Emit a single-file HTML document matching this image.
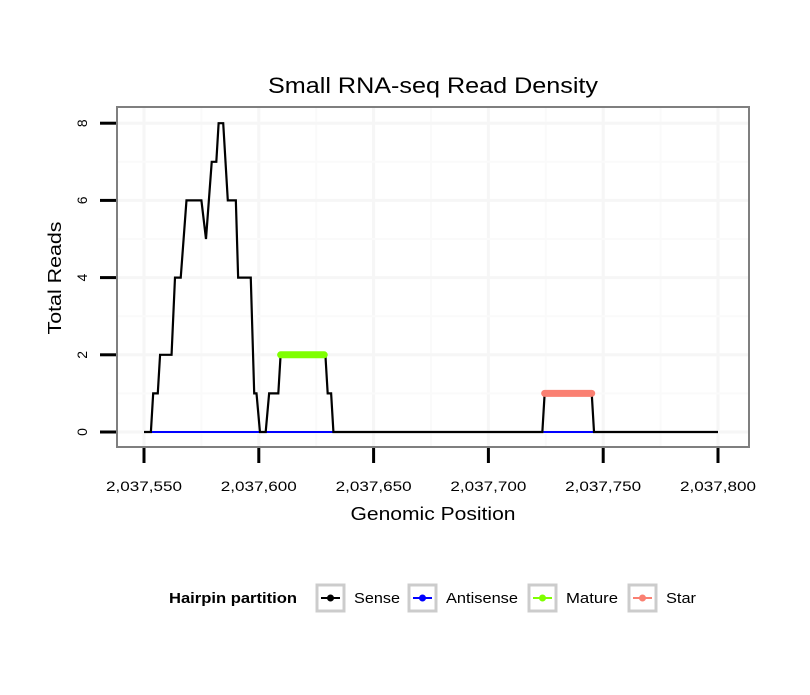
<!DOCTYPE html>
<html><head><meta charset="utf-8"><style>
body{margin:0;background:#fff;font-family:"Liberation Sans",sans-serif}
</style></head><body>
<svg id="chart" width="810" height="690" xmlns="http://www.w3.org/2000/svg" font-family="Liberation Sans, sans-serif">
<rect width="810" height="690" fill="#fff"/>
<text x="433" y="93" font-size="22" text-anchor="middle" textLength="330" lengthAdjust="spacingAndGlyphs">Small RNA-seq Read Density</text>
<g id="grid"></g>
<g id="series"></g>
<rect x="117" y="107" width="632" height="340" fill="none" stroke="#7f7f7f" stroke-width="2"/>
<g id="axes"></g>
<text transform="translate(61,278) rotate(-90)" font-size="18" text-anchor="middle" textLength="113" lengthAdjust="spacingAndGlyphs">Total Reads</text>
<text x="433" y="520" font-size="18" text-anchor="middle" textLength="165" lengthAdjust="spacingAndGlyphs">Genomic Position</text>
<g>
<text x="169" y="603" font-size="15" font-weight="bold" textLength="128" lengthAdjust="spacingAndGlyphs">Hairpin partition</text>
<g id="legend-keys"></g>
</g>
</svg>
<script>
const xTicks=[2037550,2037600,2037650,2037700,2037750,2037800];
const xTickLabels=["2,037,550","2,037,600","2,037,650","2,037,700","2,037,750","2,037,800"];
const yTicks=[0,2,4,6,8];
const sensePos=[2037550,2037553,2037554,2037556,2037557,2037562,2037563.5,2037566,2037568.5,2037575,2037577,2037579.5,2037581.5,2037582.5,2037584.5,2037586.5,2037590,2037591,2037596.5,2037598,2037599,2037600.5,2037603,2037604.5,2037608.5,2037609.5,2037629,2037630,2037631.5,2037632.5,2037723.5,2037724.5,2037745,2037746,2037800];
const senseVal=[0,0,1,1,2,2,4,4,6,6,5,7,7,8,8,6,6,4,4,1,1,0,0,1,1,2,2,1,1,0,0,1,1,0,0];
const antisensePos=[[2037552,2037632.5],[2037724,2037746]];
const maturePos=[2037609.5,2037628.5];
const matureVal=2;
const starPos=[2037724.5,2037745];
const starVal=1;
const NS="http://www.w3.org/2000/svg";
const X=v=>144+(v-2037550)*574/250;
const Y=v=>432-v*38.6;
function mk(t,a,p){const e=document.createElementNS(NS,t);for(const k in a)e.setAttribute(k,a[k]);p.appendChild(e);return e;}
const grid=document.getElementById('grid'),axes=document.getElementById('axes'),ser=document.getElementById('series');
for(let i=0;i<xTicks.length;i++){
 let l=mk('line',{x1:X(xTicks[i]),x2:X(xTicks[i]),y1:108,y2:446,stroke:'#f6f6f6','stroke-width':3},grid);
 
 if(i<xTicks.length-1){let m=(xTicks[i]+xTicks[i+1])/2;let g=mk('line',{x1:X(m),x2:X(m),y1:108,y2:446,stroke:'#fafafa','stroke-width':2},grid);
 }
}
for(let i=0;i<yTicks.length;i++){
 let l=mk('line',{x1:118,x2:748,y1:Y(yTicks[i]),y2:Y(yTicks[i]),stroke:'#f6f6f6','stroke-width':3},grid);
 
 if(i<yTicks.length-1){let m=(yTicks[i]+yTicks[i+1])/2;let g=mk('line',{x1:118,x2:748,y1:Y(m),y2:Y(m),stroke:'#fafafa','stroke-width':2},grid);
 }
}
xTicks.forEach((t,i)=>{
 let l=mk('line',{x1:X(t),x2:X(t),y1:448,y2:463,stroke:'#000','stroke-width':3},axes);
 
 let tx=mk('text',{x:X(t),y:491,'font-size':14,'text-anchor':'middle',textLength:76,lengthAdjust:'spacingAndGlyphs'},axes);tx.textContent=xTickLabels[i];
 
});
yTicks.forEach(t=>{
 let l=mk('line',{x1:100,x2:116,y1:Y(t),y2:Y(t),stroke:'#000','stroke-width':3},axes);
 
 let tx=mk('text',{transform:`translate(87,${Y(t)}) rotate(-90)`,'font-size':14,'text-anchor':'middle'},axes);tx.textContent=t;
 
});
antisensePos.forEach(r=>{let l=mk('line',{x1:X(r[0]),x2:X(r[1]),y1:Y(0),y2:Y(0),stroke:'#0000ff','stroke-width':2},ser);
 });
let pts=sensePos.map((p,i)=>X(p)+','+Y(senseVal[i])).join(' ');
let sl=mk('polyline',{points:pts,fill:'none',stroke:'#000','stroke-width':2.2,'stroke-linejoin':'miter'},ser);

let ml=mk('line',{x1:X(maturePos[0]),x2:X(maturePos[1]),y1:Y(matureVal),y2:Y(matureVal),stroke:'#7fff00','stroke-width':7,'stroke-linecap':'round'},ser);

let st=mk('line',{x1:X(starPos[0]),x2:X(starPos[1]),y1:Y(starVal),y2:Y(starVal),stroke:'#fa8072','stroke-width':7,'stroke-linecap':'round'},ser);

const legNames=["Sense","Antisense","Mature","Star"];
const legColors=["#000","#0000ff","#7fff00","#fa8072"];
const legX=[316,408,528,628];
const legW=[46,72,52,30];
const lk=document.getElementById('legend-keys');
legNames.forEach((n,i)=>{
 const g=mk('g',{},lk);
 
 
 mk('rect',{x:legX[i]+1,y:585,width:27,height:26,fill:'#fff',stroke:'#cccccc','stroke-width':3},g);
 mk('line',{x1:legX[i]+5,x2:legX[i]+24,y1:598,y2:598,stroke:legColors[i],'stroke-width':2},g);
 mk('circle',{cx:legX[i]+14.5,cy:598,r:3.5,fill:legColors[i]},g);
 const t=mk('text',{x:legX[i]+38,y:603,'font-size':15,textLength:legW[i],lengthAdjust:'spacingAndGlyphs'},g);t.textContent=n;
});
</script>
</body></html>
